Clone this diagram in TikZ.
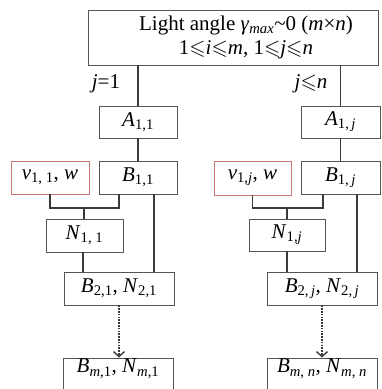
\documentclass[tikz,border=0pt]{standalone}
\usepackage{amssymb}
\usepackage{fontspec}
\setmainfont{Liberation Serif}
\usetikzlibrary{arrows.meta}
\definecolor{boxgray}{HTML}{555555}
\definecolor{linegray}{HTML}{3A3A3A}
\definecolor{vred}{HTML}{C87878}
\newcommand\sbx[1]{\textsubscript{#1}}
\newcommand\il[1]{\textit{#1}}
\begin{document}
\begin{tikzpicture}[x=1pt,y=-1pt,
  font=\fontsize{21}{24}\selectfont,
  box/.style={draw=boxgray,line width=0.9pt,fill=white,inner sep=0pt,align=center},
  vbox/.style={box,draw=vred},
  conn/.style={draw=linegray,line width=1.8pt},
  dotarrow/.style={draw=linegray,line width=1.7pt,dash pattern=on 1.6pt off 1.2pt,
    -{Straight Barb[length=5pt,width=11pt,line width=1.4pt]}},
  lbl/.style={inner sep=0pt}]
\useasboundingbox (0,0) rectangle (382,389);
\clip (0,0) rectangle (382,389);
% top box
\node[box,minimum width=290pt,minimum height=55pt] (top) at (233,37.5) {};
\node[lbl,align=center] (toptext) at (246,37) {Light angle \il{γ}\sbx{\il{max}}\textasciitilde0 (\il{m}×\il{n})\\
  1$\leqslant$\il{i}$\leqslant$\il{m}, 1$\leqslant$\il{j}$\leqslant$\il{n}};
% left column
\node[box,minimum width=78pt,minimum height=32pt] (A1) at (138,122) {\il{A}\sbx{1,1}};
\node[box,minimum width=78pt,minimum height=33pt] (B1) at (138,177.5) {\il{B}\sbx{1,1}};
\node[vbox,minimum width=78pt,minimum height=33pt] (v1) at (50,177.5) {\il{v}\sbx{1, 1}, \il{w}};
\node[box,minimum width=77pt,minimum height=33pt] (N1) at (84.5,235.5) {\il{N}\sbx{1, 1}};
\node[box,minimum width=110pt,minimum height=33pt] (C1) at (119,288.5) {\il{B}\sbx{2,1}, \il{N}\sbx{2,1}};
\node[box,minimum width=110pt,text height=14pt,text depth=22pt,inner ysep=1pt,anchor=north] (M1) at (118,357.5) {\il{B}\sbx{\il{m},1}, \il{N}\sbx{\il{m},1}};
\node[lbl] (jl) at (106,84) {\il{j}=1};
% right column
\node[box,minimum width=79pt,minimum height=32pt] (A2) at (340.5,122) {\il{A}\sbx{1,\,\il{j}}};
\node[box,minimum width=79pt,minimum height=33pt] (B2) at (340.5,177.5) {\il{B}\sbx{1,\,\il{j}}};
\node[vbox,minimum width=77pt,minimum height=34pt] (v2) at (252.5,178) {\il{v}\sbx{1,\il{j}}, \il{w}};
\node[box,minimum width=76pt,minimum height=32pt] (N2) at (287,235) {\il{N}\sbx{1,\il{j}}};
\node[box,minimum width=110pt,minimum height=33pt] (C2) at (322,288.5) {\il{B}\sbx{2,\,\il{j}}, \il{N}\sbx{2,\,\il{j}}};
\node[box,minimum width=110pt,text height=14pt,text depth=22pt,inner ysep=1pt,anchor=north] (M2) at (322,357.5) {\il{B}\sbx{\il{m}, \il{n}}, \il{N}\sbx{\il{m}, \il{n}}};
\node[lbl] (jr) at (311,84) {\il{j}$\leqslant$\il{n}};
% connectors left
\draw[conn] (A1.north) -- (A1.north |- top.south);
\draw[conn] (A1.south) -- (B1.north);
\coordinate (k1) at (84,208);
\draw[conn] (v1.south) |- (k1) -| ([xshift=-19pt]B1.south);
\draw[conn] (k1) -- (k1 |- N1.north);
\draw[conn] ([xshift=16pt]B1.south) -- ([xshift=16pt]B1.south |- C1.north);
\draw[conn] ([xshift=-1.5pt]N1.south) -- ([xshift=-1.5pt]N1.south |- C1.north);
\draw[dotarrow] (C1.south) -- (C1.south |- M1.north);
% connectors right
\draw[conn] (A2.north) -- (A2.north |- top.south);
\draw[conn] (A2.south) -- (B2.north);
\coordinate (k2) at (287,208);
\draw[conn] (v2.south) |- (k2) -| ([xshift=-17.5pt]B2.south);
\draw[conn] (k2) -- (k2 |- N2.north);
\draw[conn] ([xshift=16.5pt]B2.south) -- ([xshift=16.5pt]B2.south |- C2.north);
\draw[conn] (N2.south) -- (N2.south |- C2.north);
\draw[dotarrow] (C2.south) -- (C2.south |- M2.north);
\end{tikzpicture}
\end{document}
